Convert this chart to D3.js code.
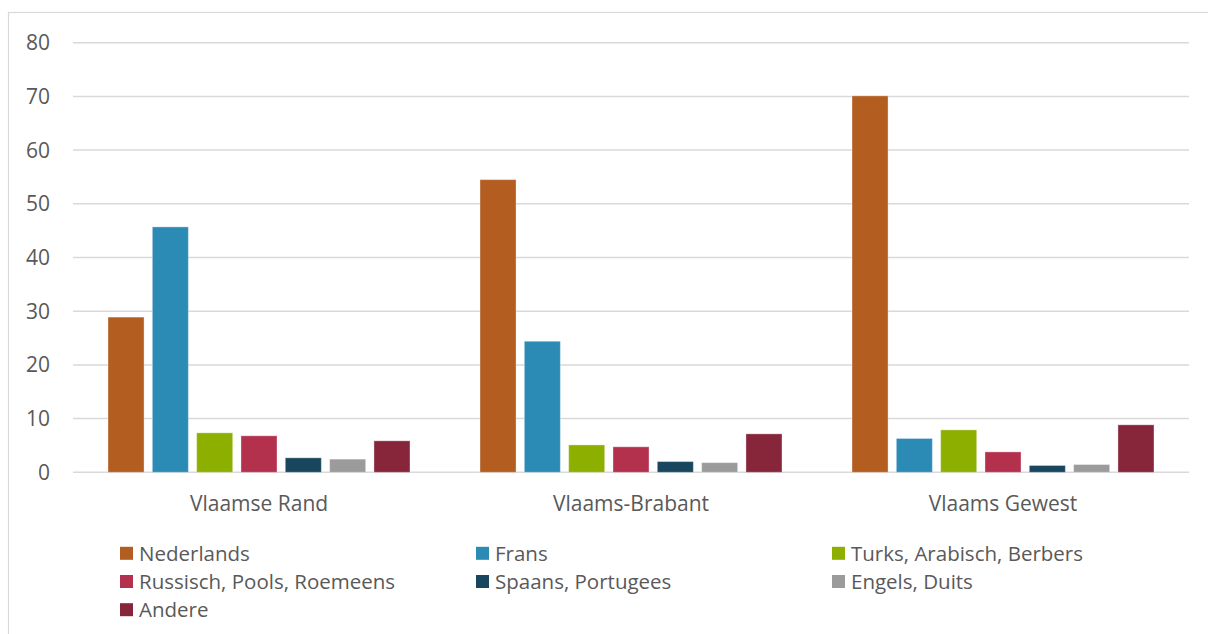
<!DOCTYPE html>
<html lang="nl">
<head>
<meta charset="utf-8">
<style>
  body { margin: 0; background: #fff; }
  svg { display: block; font-family: "Open Sans", "Noto Sans", sans-serif; }
  .grid line { stroke: #d9d9d9; stroke-width: 1.5px; }
  .tick-label, .cat-label, .legend text { fill: #595959; }
</style>
</head>
<body>
<svg width="1208" height="634"></svg>
<script src="https://d3js.org/d3.v7.min.js"></script>
<script>
// regions on the x axis
var categories = ["Vlaamse Rand", "Vlaams-Brabant", "Vlaams Gewest"];

// languages (series)
var series = ["Nederlands", "Frans", "Turks, Arabisch, Berbers", "Russisch, Pools, Roemeens",
              "Spaans, Portugees", "Engels, Duits", "Andere"];

var colors = ["#b35d21", "#2b8bb5", "#8daf00", "#b3314d", "#17465e", "#9b9b9b", "#87253b"];

// values per series, in order of categories
var nederlands = [28.9, 54.5, 70.1];
var frans      = [45.7, 24.4, 6.3];
var turks      = [7.35, 5.1, 7.9];
var russisch   = [6.8, 4.75, 3.8];
var spaans     = [2.7, 2.0, 1.27];
var engels     = [2.45, 1.8, 1.45];
var andere     = [5.86, 7.16, 8.84];

var yTicks = [0, 10, 20, 30, 40, 50, 60, 70, 80];

var values = [nederlands, frans, turks, russisch, spaans, engels, andere];

var svg = d3.select("svg");

// frame round the chart
svg.append("rect")
    .attr("x", 8.5).attr("y", 12.5)
    .attr("width", 1400).attr("height", 800)
    .attr("fill", "none")
    .attr("stroke", "#d9d9d9")
    .attr("stroke-width", 1.2);

var plotLeft = 73, plotRight = 1189, plotTop = 42.7, plotBottom = 472.3;

var y = d3.scaleLinear().domain([0, 80]).range([plotBottom, plotTop]);

var x0 = d3.scaleBand().domain(categories).range([plotLeft, plotRight]).padding(0);

var x1 = d3.scaleBand().domain(series)
    .range([0, x0.bandwidth()])
    .paddingInner(0.187)
    .paddingOuter(0.79);

// gridlines
svg.append("g").attr("class", "grid")
    .selectAll("line")
    .data(yTicks)
    .enter().append("line")
    .attr("x1", plotLeft).attr("x2", plotRight)
    .attr("y1", function (d) { return y(d); })
    .attr("y2", function (d) { return y(d); });

// y tick labels
svg.append("g")
    .selectAll("text")
    .data(yTicks)
    .enter().append("text")
    .attr("class", "tick-label")
    .attr("x", 50)
    .attr("y", function (d) { return y(d); })
    .attr("dy", "0.36em")
    .attr("text-anchor", "end")
    .attr("font-size", 21)
    .text(function (d) { return d; });

// bars
var groups = svg.append("g")
    .selectAll("g")
    .data(categories)
    .enter().append("g")
    .attr("transform", function (d) { return "translate(" + x0(d) + ",0)"; });

groups.selectAll("rect")
    .data(function (c, ci) {
        return series.map(function (s, si) { return { s: s, i: si, v: values[si][ci] }; });
    })
    .enter().append("rect")
    .attr("x", function (d) { return x1(d.s); })
    .attr("width", x1.bandwidth())
    .attr("y", function (d) { return y(d.v); })
    .attr("height", function (d) { return y(0) - y(d.v); })
    .attr("fill", function (d) { return colors[d.i]; })
    .attr("stroke", "#ffffff")
    .attr("stroke-opacity", 0.35)
    .attr("stroke-width", 1);

// category labels
svg.append("g")
    .selectAll("text")
    .data(categories)
    .enter().append("text")
    .attr("class", "cat-label")
    .attr("x", function (d) { return x0(d) + x0.bandwidth() / 2; })
    .attr("y", 511)
    .attr("text-anchor", "middle")
    .attr("font-size", 21)
    .text(function (d) { return d; });

// legend: 3 columns, row-major
var legend = svg.append("g").attr("class", "legend");
var item = legend.selectAll("g")
    .data(series)
    .enter().append("g")
    .attr("transform", function (d, i) {
        return "translate(" + (120 + (i % 3) * 356) + "," + (553.3 + Math.floor(i / 3) * 28.2) + ")";
    });

item.append("rect")
    .attr("x", 0).attr("y", -6.5)
    .attr("width", 13).attr("height", 13)
    .attr("fill", function (d, i) { return colors[i]; });

item.append("text")
    .attr("x", 19)
    .attr("dy", "0.36em")
    .attr("font-size", 20.5)
    .text(function (d) { return d; });
</script>
</body>
</html>
